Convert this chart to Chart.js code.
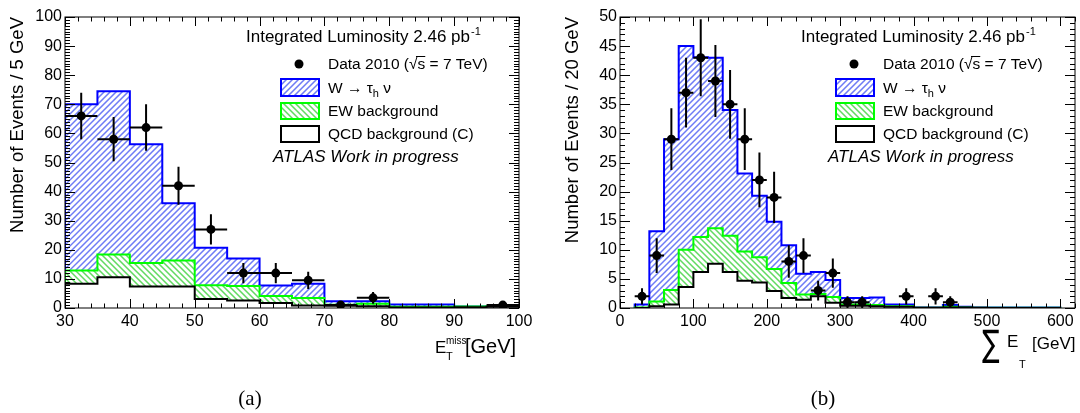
<!DOCTYPE html>
<html>
<head>
<meta charset="utf-8">
<script src="https://cdn.jsdelivr.net/npm/chart.js@4.4.0/dist/chart.umd.min.js"></script>
<style>
body { margin: 0; background: #fff; }
#wrap { position: relative; width: 1080px; height: 413px; overflow: hidden; }
canvas { position: absolute; top: 0; }
#met { left: 0; }
#sumet { left: 555px; }
</style>
</head>
<body>
<div id="wrap">
<canvas id="met" width="540" height="413"></canvas>
<canvas id="sumet" width="525" height="413"></canvas>
</div>
<script>
// (a) missing ET, 5 GeV bins; stacks are cumulative heights (total, EW+QCD, QCD)
const metEdges = [30, 35, 40, 45, 50, 55, 60, 65, 70, 75, 80, 85, 90, 95, 100];
const metTotal = [70, 74.5, 56.3, 36, 20.7, 17, 7.7, 8.3, 2.3, 2.3, 1.2, 1.2, 0.5, 0.5];
const metEW = [12.9, 18.4, 15.5, 16.3, 7.8, 7.6, 4.1, 3.4, 1.1, 1.5, 0.4, 0.4, 0.5, 0.6];
const metQCD = [8.3, 10.6, 7.4, 7.4, 3.1, 2.6, 1.7, 0.9, 0.8, 0.6, 0.2, 0.2, 0.3, 0.4];
const metX = [32.5, 37.5, 42.5, 47.5, 52.5, 57.5, 62.5, 67.5, 72.5, 77.5, 97.5];
const metData = [66, 58, 62, 42, 27, 12, 12, 9.5, 1, 3.5, 1];
const metErr = [8, 7.6, 8, 6.5, 5.2, 3.5, 3.5, 3, 1, 2, 1];

// (b) sum ET, 20 GeV bins
const sumEdges = [20, 40, 60, 80, 100, 120, 140, 160, 180, 200, 220, 240, 260, 280, 300,
  320, 340, 360, 380, 400, 420, 440, 460, 480, 500, 520, 540, 560, 580, 600];
const sumTotal = [0.6, 13.2, 29, 45, 43.1, 43, 34, 23.1, 19.3, 14.8, 10.8, 5.9, 6.2, 4.8, 1.7,
  1.7, 1.8, 0.6, 0.6, 0.1, 0.1, 0.5, 0.2, 0.1, 0.1, 0.1, 0.1, 0.1, 0.1];
const sumEW = [0.1, 1.1, 3.1, 10, 12.2, 13.7, 12.4, 9.7, 8.7, 6.7, 4.3, 2.3, 2.4, 1.9, 0.6,
  0.6, 0.5, 0.3, 0.3, 0.05, 0.05, 0.2, 0.1, 0.05, 0.05, 0.05, 0.05, 0.05, 0.05];
const sumQCD = [0, 0.3, 0.6, 3.6, 6.2, 7.6, 6.2, 4.7, 4.4, 2.9, 1.7, 1.4, 2.0, 0.9, 0.4,
  0.4, 0.3, 0.2, 0.2, 0.05, 0.05, 0.1, 0.1, 0.05, 0, 0, 0, 0, 0];
const sumX = [30, 50, 70, 90, 110, 130, 150, 170, 190, 210, 230, 250, 270, 290, 310, 330, 390, 430, 450];
const sumData = [2, 9, 29, 37, 43, 39, 35, 29, 22, 19, 8, 9, 3, 6, 1, 1, 2, 2, 1];
const sumErr = [1.4, 3, 5.3, 6, 6.6, 6.2, 5.9, 5.3, 4.7, 4.4, 2.8, 3, 1.7, 2.5, 1, 1, 1.4, 1.4, 1];

const FONT = '"Liberation Sans", Arial, sans-serif';
Chart.defaults.font.family = FONT;
Chart.defaults.color = '#000';

const BLUE_HATCH = { color: '#6e7cf5', dir: 1 };
const GREEN_HATCH = { color: '#62da62', dir: -1 };

// stroke 45 degree lines over a box; caller sets the clip
function hatchLines(ctx, box, h) {
    ctx.save();
    ctx.strokeStyle = h.color;
    ctx.lineWidth = 1.5;
    ctx.beginPath();
    const w = box.right - box.left, ht = box.bottom - box.top;
    for (let c = -ht; c <= w + ht; c += 6) {
        if (h.dir > 0) {
            ctx.moveTo(box.left + c, box.bottom);
            ctx.lineTo(box.left + c + ht, box.top);
        } else {
            ctx.moveTo(box.left + c, box.top);
            ctx.lineTo(box.left + c + ht, box.bottom);
        }
    }
    ctx.stroke();
    ctx.restore();
}

// outline of a histogram: up from zero at the first edge, one step per bin, back down at the end
function steps(edges, vals) {
    const pts = [{ x: edges[0], y: 0 }];
    vals.forEach((v, i) => pts.push({ x: edges[i], y: v }));
    pts.push({ x: edges[edges.length - 1], y: vals[vals.length - 1] });
    pts.push({ x: edges[edges.length - 1], y: 0 });
    return pts;
}

function hist(edges, vals, line, pattern) {
    return {
        data: steps(edges, vals),
        stepped: true,
        borderColor: line,
        borderWidth: 2,
        backgroundColor: '#ffffff',
        fill: 'origin',
        pattern: pattern,
        pointRadius: 0,
        tension: 0
    };
}

function txt(ctx, s, x, y, size, style) {
    ctx.font = (style || '') + ' ' + size + 'px ' + FONT;
    ctx.fillText(s, x, y);
    return x + ctx.measureText(s).width;
}

// hatching inside the filled area of a histogram, before its outline goes on top
const hatching = {
    id: 'hatching',
    beforeDatasetDraw(chart, args) {
        const ds = chart.data.datasets[args.index];
        if (!ds.pattern) return;
        const ctx = chart.ctx;
        const a = chart.chartArea;
        ctx.save();
        ctx.beginPath();
        ctx.rect(a.left, a.top, a.right - a.left, a.bottom - a.top);
        ctx.clip();
        ctx.beginPath();
        args.meta.dataset.path(ctx);
        ctx.closePath();
        ctx.clip();
        hatchLines(ctx, a, ds.pattern);
        ctx.restore();
    }
};

const errorBars = {
    id: 'errorBars',
    beforeDatasetDraw(chart, args, opts) {
        if (args.index !== 0) return;
        const { ctx, scales: { x, y } } = chart;
        ctx.save();
        ctx.strokeStyle = '#000';
        ctx.lineWidth = 2;
        opts.xs.forEach((cx, i) => {
            const px = x.getPixelForValue(cx);
            const py = y.getPixelForValue(opts.ys[i]);
            ctx.beginPath();
            ctx.moveTo(x.getPixelForValue(cx - opts.half), py);
            ctx.lineTo(x.getPixelForValue(cx + opts.half), py);
            ctx.moveTo(px, y.getPixelForValue(Math.max(0, opts.ys[i] - opts.err[i])));
            ctx.lineTo(px, y.getPixelForValue(opts.ys[i] + opts.err[i]));
            ctx.stroke();
        });
        ctx.restore();
    }
};

// ROOT-like frame with inward ticks on all four sides
const frame = {
    id: 'frame',
    afterDraw(chart, args, opts) {
        const { ctx, chartArea: a, scales: { x, y } } = chart;
        ctx.save();
        ctx.strokeStyle = '#000';
        ctx.lineWidth = 1;
        ctx.strokeRect(a.left, a.top, a.right - a.left, a.bottom - a.top);
        ctx.beginPath();
        const nx = Math.round((x.max - x.min) / opts.xMinor);
        for (let k = 0; k <= nx; k++) {
            const v = x.min + k * opts.xMinor;
            const major = Math.abs(v / opts.xMajor - Math.round(v / opts.xMajor)) < 1e-6;
            const len = major ? 9 : 4.5;
            const px = Math.round(x.getPixelForValue(v)) + 0.5;
            ctx.moveTo(px, a.bottom); ctx.lineTo(px, a.bottom - len);
            ctx.moveTo(px, a.top); ctx.lineTo(px, a.top + len);
        }
        const ny = Math.round((y.max - y.min) / opts.yMinor);
        for (let k = 0; k <= ny; k++) {
            const v = y.min + k * opts.yMinor;
            const major = Math.abs(v / opts.yMajor - Math.round(v / opts.yMajor)) < 1e-6;
            const len = major ? 10 : 5;
            const py = Math.round(y.getPixelForValue(v)) + 0.5;
            ctx.moveTo(a.left, py); ctx.lineTo(a.left + len, py);
            ctx.moveTo(a.right, py); ctx.lineTo(a.right - len, py);
        }
        ctx.stroke();
        ctx.restore();
    }
};

function legendBox(ctx, top, h, line, pattern) {
    const box = { left: 281, top: top, right: 319, bottom: top + h };
    ctx.save();
    ctx.fillStyle = '#fff';
    ctx.fillRect(281, top, 38, h);
    if (pattern) {
        ctx.beginPath();
        ctx.rect(281, top, 38, h);
        ctx.clip();
        hatchLines(ctx, box, pattern);
    }
    ctx.restore();
    ctx.strokeStyle = line;
    ctx.lineWidth = 2;
    ctx.strokeRect(281, top, 38, h);
}

const annotations = {
    id: 'annotations',
    afterDraw(chart, args, opts) {
        const ctx = chart.ctx;
        ctx.save();
        ctx.fillStyle = '#000';
        ctx.textBaseline = 'alphabetic';
        ctx.textAlign = 'left';

        let x = txt(ctx, 'Integrated Luminosity 2.46 pb', 246, 42, 17);
        txt(ctx, '-1', x + 1, 35, 11);

        ctx.beginPath();
        ctx.arc(299, 64, 4.5, 0, 2 * Math.PI);
        ctx.fill();
        x = txt(ctx, 'Data 2010 (', 328, 69, 15.5);
        const rootX = x;
        x = txt(ctx, '\u221As', x, 69, 15.5);
        ctx.strokeStyle = '#000';
        ctx.lineWidth = 1;
        ctx.beginPath();
        ctx.moveTo(rootX + 7, 56.5);
        ctx.lineTo(x, 56.5);
        ctx.stroke();
        txt(ctx, ' = 7 TeV)', x, 69, 15.5);

        legendBox(ctx, 79, 17, '#0000ff', BLUE_HATCH);
        legendBox(ctx, 103, 16, '#00ff00', GREEN_HATCH);
        legendBox(ctx, 126, 16, '#000000', null);

        ctx.fillStyle = '#000';
        x = txt(ctx, 'W \u2192 \u03C4', 328, 93, 15.5);
        txt(ctx, 'h', x, 97, 11);
        txt(ctx, ' \u03BD', x + 6, 93, 15.5);
        txt(ctx, 'EW background', 328, 116, 15.5);
        txt(ctx, 'QCD background (C)', 328, 139, 15.5);
        txt(ctx, 'ATLAS Work in progress', 273, 162, 17, 'italic');

        // axis title
        if (opts.axis === 'met') {
            txt(ctx, 'E', 435, 353, 17);
            txt(ctx, 'miss', 446, 344, 10);
            txt(ctx, 'T', 446, 360, 11);
            txt(ctx, '[GeV]', 465, 353, 20);
        } else {
            ctx.save();
            ctx.translate(427, 356);
            ctx.scale(1, 1.4);
            ctx.font = '26px "DejaVu Sans"';
            ctx.fillText('\u2211', 0, 0);
            ctx.restore();
            txt(ctx, 'E', 452, 347, 17);
            txt(ctx, 'T', 464, 368, 11);
            txt(ctx, '[GeV]', 477, 349, 17);
        }

        ctx.textAlign = 'center';
        ctx.font = '21px "Liberation Serif", serif';
        ctx.fillText(opts.caption, opts.captionX, 405);
        ctx.restore();
    }
};

function drawPanel(id, h) {
    new Chart(document.getElementById(id), {
        type: 'line',
        data: {
            datasets: [
                {
                    data: h.xs.map((v, i) => ({ x: v, y: h.ys[i] })),
                    showLine: false,
                    pointRadius: 4.5,
                    pointBackgroundColor: '#000',
                    pointBorderWidth: 0
                },
                hist(h.edges, h.qcd, '#000000', null),
                hist(h.edges, h.ew, '#00ff00', GREEN_HATCH),
                hist(h.edges, h.total, '#0000ff', BLUE_HATCH)
            ]
        },
        options: {
            animation: false,
            responsive: false,
            events: [],
            layout: { padding: { top: 17, right: h.padRight, left: 0, bottom: 0 } },
            plugins: {
                legend: { display: false },
                tooltip: { enabled: false },
                errorBars: { xs: h.xs, ys: h.ys, err: h.err, half: h.half },
                frame: { xMajor: h.xStep, xMinor: h.xMinor, yMajor: h.yStep, yMinor: h.yMinor },
                annotations: { axis: id, caption: h.caption, captionX: h.captionX }
            },
            scales: {
                x: {
                    type: 'linear',
                    min: h.xMin,
                    max: h.xMax,
                    afterFit: s => { s.height = 105; },
                    grid: { display: false, drawTicks: false },
                    border: { display: false },
                    ticks: { stepSize: h.xStep, includeBounds: false, padding: 4, autoSkip: false, maxRotation: 0, font: { size: 16 } }
                },
                y: {
                    min: 0,
                    max: h.yMax,
                    afterFit: s => { s.width = 65; },
                    grid: { display: false, drawTicks: false },
                    border: { display: false },
                    ticks: { stepSize: h.yStep, padding: 3, font: { size: 16 } },
                    title: { display: true, text: h.yTitle, align: 'end', font: { size: 18.5 }, padding: { top: 7, bottom: 0 } }
                }
            }
        },
        plugins: [hatching, errorBars, frame, annotations]
    });
}

drawPanel('met', {
    edges: metEdges, total: metTotal, ew: metEW, qcd: metQCD,
    xs: metX, ys: metData, err: metErr, half: 2.5,
    xMin: 30, xMax: 100, xStep: 10, xMinor: 2,
    yMax: 100, yStep: 10, yMinor: 1,
    padRight: 21,
    yTitle: 'Number of Events / 5 GeV',
    caption: '(a)', captionX: 250
});

drawPanel('sumet', {
    edges: sumEdges, total: sumTotal, ew: sumEW, qcd: sumQCD,
    xs: sumX, ys: sumData, err: sumErr, half: 10,
    xMin: 0, xMax: 620, xStep: 100, xMinor: 20,
    yMax: 50, yStep: 5, yMinor: 1,
    padRight: 5,
    yTitle: 'Number of Events / 20 GeV',
    caption: '(b)', captionX: 268
});
</script>
</body>
</html>
